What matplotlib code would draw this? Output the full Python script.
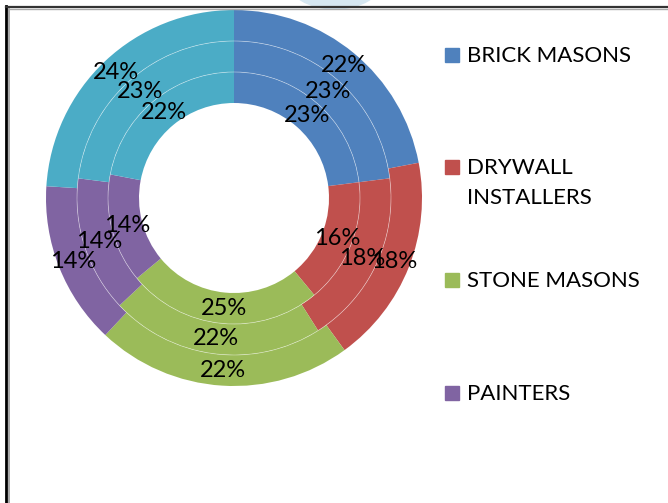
import matplotlib.pyplot as plt
from matplotlib.patches import Rectangle, Circle, Ellipse
import numpy as np

categories = ['BRICK MASONS', 'DRYWALL\nINSTALLERS', 'STONE MASONS', 'PAINTERS', 'OTHER']
colors = ['#4F81BD', '#C0504D', '#9BBB59', '#8064A2', '#4BACC6']
outer = [22, 18, 22, 14, 24]
middle = [23, 18, 22, 14, 23]
inner = [23, 16, 25, 14, 22]
legend_rows = [55, 167, 280, 393]   # legend row centres (px from top)

plt.rcParams['font.family'] = ['Lato', 'DejaVu Sans']

W, H = 668, 503
fig = plt.figure(figsize=(W / 100, H / 100), dpi=100)
ax = fig.add_axes([0, 0, 1, 1])

cx, cy = 234, H - 198
R = 188
w = 31

for i, vals in enumerate([outer, middle, inner]):
    r = R - i * w
    wedges, _ = ax.pie(vals, colors=colors, radius=r, center=(cx, cy),
                       startangle=90, counterclock=False,
                       wedgeprops=dict(width=w, edgecolor='none'),
                       frame=True)
    # percent labels at the middle of each ring segment
    total = sum(vals)
    cum = 0
    for v in vals:
        mid = (cum + v / 2) / total * 2 * np.pi
        cum += v
        rm = r - w / 2
        ax.text(cx + rm * np.sin(mid), cy + rm * np.cos(mid), f'{v}%',
                ha='center', va='center', fontsize=17, color='black')

# thin white ring borders
for r in [R - w, R - 2 * w]:
    ax.add_patch(Circle((cx, cy), r, fill=False, edgecolor='white', lw=0.5, alpha=0.5))

ax.set_xlim(0, W)
ax.set_ylim(0, H)
ax.set_aspect('equal')
ax.axis('off')

# legend (first four categories only)
for name, col, yc in zip(categories[:4], colors[:4], legend_rows):
    ax.add_patch(Rectangle((445, H - yc - 7), 14, 14, color=col))
    ax.text(467, H - yc + 9, name, ha='left', va='top', fontsize=16,
            color='black', linespacing=1.6)

# frame lines
ax.plot([6, 6], [0, H - 6], color='black', lw=2)
ax.plot([9, 9], [0, H - 9], color='#999999', lw=1.2)
ax.plot([6, W], [H - 6.5, H - 6.5], color='#333333', lw=1.6)
ax.plot([9, W], [H - 9, H - 9], color='#aaaaaa', lw=1.0)
ax.add_patch(Ellipse((335, H + 20), 95, 58, color='#d6e7f1', zorder=0))

fig.savefig('out.png', dpi=100)
